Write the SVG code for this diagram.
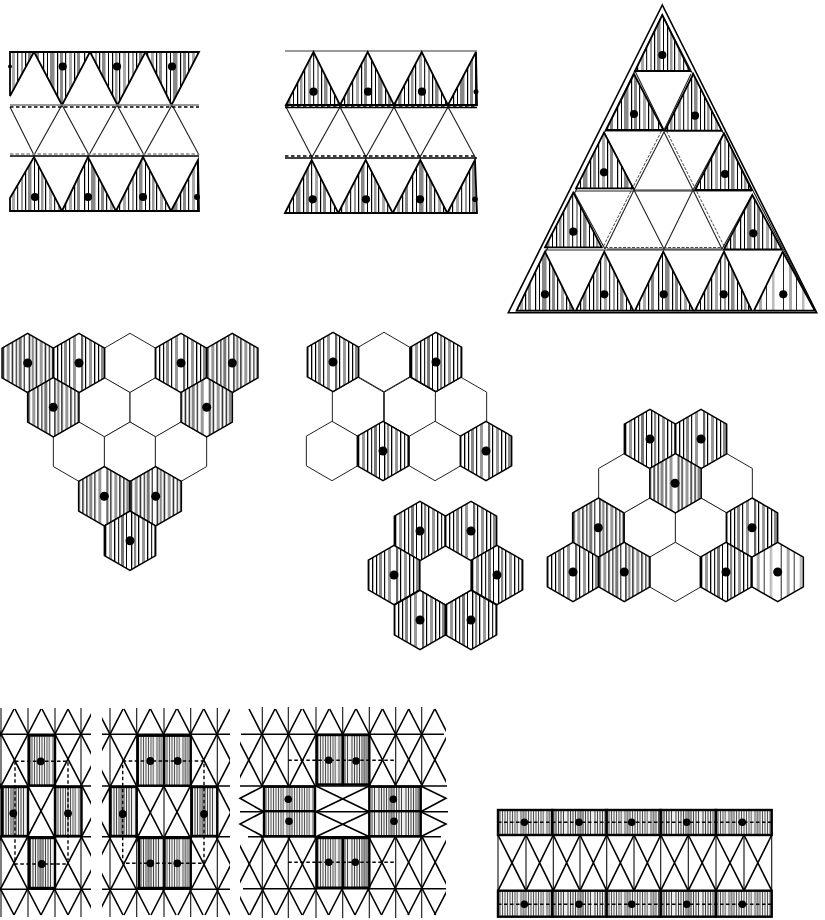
<svg xmlns="http://www.w3.org/2000/svg" width="825" height="920" viewBox="0 0 825 920">
<style>
.l{fill:none;stroke:#000;stroke-width:1.6}
.v{fill:none;stroke:#111;stroke-width:1.1}
.t{fill:none;stroke:#222;stroke-width:1.1}
.g{fill:none;stroke:#000;stroke-width:1.6}
.gd{fill:none;stroke:#777;stroke-width:1.3}
.d{fill:none;stroke:#000;stroke-width:1.4;stroke-dasharray:3.500 2.500}
.dg{fill:none;stroke:#888;stroke-width:1.3;stroke-dasharray:3.500 2}
.dt{fill:none;stroke:#333;stroke-width:.9;stroke-dasharray:3 1.500}
.ta{fill:url(#a);stroke:#000;stroke-width:1.8}
.tb{fill:url(#a2);stroke:#000;stroke-width:1.8}
.hw{fill:#fff;stroke:#222;stroke-width:1}
.hs{stroke:#000;stroke-width:1.5}
.r1{fill:url(#c);stroke:#000;stroke-width:2.4}
.r2{fill:url(#c2);stroke:#000;stroke-width:2.4}
.dot{fill:#000}
</style>
<defs>
<pattern id="a" width="37" height="10" patternUnits="userSpaceOnUse">
<rect width="37" height="10" fill="#fff"/><rect x="1" width="1.200" height="10" fill="#000"/><rect x="4" width="2.500" height="10" fill="#999"/><rect x="8" width="1.200" height="10" fill="#000"/><rect x="12" width="3" height="10" fill="#aaa"/><rect x="17" width="1.200" height="10" fill="#222"/><rect x="21" width="2" height="10" fill="#999"/><rect x="25" width="1.200" height="10" fill="#000"/><rect x="28" width="3.500" height="10" fill="#888"/><rect x="34" width="1" height="10" fill="#000"/>
</pattern>
<pattern id="a2" width="41" height="10" patternUnits="userSpaceOnUse">
<rect width="41" height="10" fill="#fff"/><rect x="2" width="1.200" height="10" fill="#000"/><rect x="6" width="1" height="10" fill="#000"/><rect x="9" width="4.500" height="10" fill="#888"/><rect x="16" width="1.200" height="10" fill="#000"/><rect x="19" width="3" height="10" fill="#888"/><rect x="24" width="1.200" height="10" fill="#111"/><rect x="28" width="3" height="10" fill="#aaa"/><rect x="33" width="1.200" height="10" fill="#000"/><rect x="36" width="3" height="10" fill="#888"/>
</pattern>
<pattern id="e" width="30" height="10" patternUnits="userSpaceOnUse">
<rect width="30" height="10" fill="#fff"/><rect x="3" width="1" height="10" fill="#222"/><rect x="9" width="3" height="10" fill="#aaa"/><rect x="16" width="1" height="10" fill="#333"/><rect x="22" width="2.500" height="10" fill="#bbb"/>
</pattern>
<pattern id="b" width="33" height="10" patternUnits="userSpaceOnUse">
<rect width="33" height="10" fill="#fff"/><rect x="1" width="1.300" height="10" fill="#000"/><rect x="4" width="2.200" height="10" fill="#888"/><rect x="8" width="1.300" height="10" fill="#000"/><rect x="12" width="3" height="10" fill="#999"/><rect x="17" width="1.300" height="10" fill="#000"/><rect x="21" width="1.200" height="10" fill="#222"/><rect x="24" width="3" height="10" fill="#777"/><rect x="29" width="1" height="10" fill="#000"/>
</pattern>
<pattern id="b2" width="37" height="10" patternUnits="userSpaceOnUse">
<rect width="37" height="10" fill="#fff"/><rect x="2" width="2.200" height="10" fill="#666"/><rect x="6" width="1.200" height="10" fill="#000"/><rect x="10" width="3" height="10" fill="#999"/><rect x="15" width="1.300" height="10" fill="#000"/><rect x="19" width="1.200" height="10" fill="#000"/><rect x="22" width="3" height="10" fill="#888"/><rect x="27" width="1.200" height="10" fill="#111"/><rect x="31" width="3" height="10" fill="#999"/>
</pattern>
<pattern id="c" width="26" height="10" patternUnits="userSpaceOnUse">
<rect width="26" height="10" fill="#eee"/><path d="M1 0v10M3.500 0v10M6 0v10M8.500 0v10M11 0v10M13.500 0v10M16 0v10M18.500 0v10M21 0v10M23.500 0v10" stroke="#555" stroke-width="1" fill="none"/><rect x="2" width="4" height="10" fill="#999" opacity=".7"/><rect x="21" width="3" height="10" fill="#aaa" opacity=".7"/>
</pattern>
<pattern id="c2" width="27" height="10" patternUnits="userSpaceOnUse">
<rect width="27" height="10" fill="#eee"/><path d="M1 0v10M3.500 0v10M6 0v10M8.500 0v10M11 0v10M13.500 0v10M16 0v10M18.500 0v10M21 0v10M23.500 0v10" stroke="#444" stroke-width="1" fill="none"/><rect x="12" width="5" height="10" fill="#888" opacity=".8"/>
</pattern>
<clipPath id="p1"><rect x="0" y="700" width="91" height="220"/></clipPath>
<clipPath id="p2"><rect x="102" y="700" width="128" height="220"/></clipPath>
<clipPath id="p3"><rect x="240" y="700" width="206" height="86"/><rect x="240" y="836.700" width="206" height="83"/></clipPath>
<path id="hx" d="M0-29.700L25.650-14.850V14.850L0 29.700L-25.650 14.850V-14.850Z"/>
</defs>
<rect width="825" height="920" fill="#fff"/>

<g id="strip-a">
<path class="t" d="M10 107L34 155L62 105L89 155L117 105L144 155L172 105L199 155"/>
<polygon class="ta" points="10,52 34,52 10,96"/>
<polygon class="tb" points="34,52 90,52 62,105"/>
<polygon class="ta" points="90,52 145.500,52 117.500,105"/>
<polygon class="tb" points="145.500,52 199,52 171.500,105"/>
<polygon class="ta" points="10,211 10,198 34,157 62,211"/>
<polygon class="tb" points="62,211 88,157 116,211"/>
<polygon class="ta" points="116,211 143,157 171,211"/>
<polygon class="tb" points="171,211 198,160 199,211"/>
<path class="gd" d="M10 105H199"/><path class="d" d="M10 107H199"/>
<path class="dg" d="M10 154H199"/><path class="g" d="M10 156H199"/>
<g class="dot"><circle cx="10" cy="66.500" r="2"/><circle cx="62.700" cy="66.500" r="4.100"/><circle cx="117" cy="66.500" r="4.100"/><circle cx="172" cy="66.500" r="4.100"/><circle cx="35" cy="197" r="4.100"/><circle cx="88" cy="197" r="4.100"/><circle cx="143" cy="197" r="4.100"/><circle cx="197" cy="197" r="3"/></g>
</g>

<g id="strip-b">
<path class="t" d="M286 107L312 157L340 107L366 157L394 107L420 157L448 107L475 157"/>
<path class="gd" d="M285 51H477"/>
<polygon class="ta" points="286,105 313.500,52 340,105"/>
<polygon class="tb" points="340,105 367.700,52 394,105"/>
<polygon class="ta" points="394,105 421.700,52 448,105"/>
<polygon class="tb" points="448,105 476,52 477,105"/>
<polygon class="tb" points="285,213 311.700,160 338.300,213"/>
<polygon class="ta" points="338.300,213 365.700,160 392.700,213"/>
<polygon class="tb" points="392.700,213 420.300,160 447.300,213"/>
<polygon class="ta" points="447.300,213 475,160 477,213"/>
<path class="g" d="M285 107.500H477"/><path class="d" d="M285 106H477"/>
<path class="d" d="M285 156H477"/><path class="g" d="M285 158H477"/>
<g class="dot"><circle cx="313.500" cy="91.700" r="4.100"/><circle cx="368" cy="91.700" r="4.100"/><circle cx="422" cy="91.700" r="4.100"/><circle cx="476" cy="91.700" r="2.500"/><circle cx="312.700" cy="199.300" r="4.100"/><circle cx="366" cy="199.300" r="4.100"/><circle cx="420" cy="199.300" r="4.100"/><circle cx="475" cy="199.300" r="2.800"/></g>
</g>

<g id="big-triangle">
<polygon class="l" points="662.300,5 508.300,312.700 816.700,312.700"/>
<polygon class="t" points="662.300,15 516.700,310.700 815,310.700"/>
<path class="t" d="M634 190H693M634 190L664 249L693 190M664 132L634 190L605 249M664 132L693 190L722 249"/>
<path class="t" d="M607 249H722"/>
<path class="dt" d="M661.500 131L631.500 190L602.500 248M666.500 131L696 190L725 248M605 247.500H722"/>
<path class="t" d="M635 71L664 130M691 74L664 130M605 131H722M576 191H752M545 250H782"/>
<path class="t" d="M634 190L604 132M693 190L724 133M605 249L574 192M722 249L752 195"/>
<polygon class="ta" points="662.300,15 635,71 690,71"/>
<polygon class="tb" points="634,74 606,130 663.300,130"/>
<polygon class="ta" points="693.300,74 665,130.700 721.700,130.700"/>
<polygon class="tb" points="604,132.700 576,188.300 633.300,188.300"/>
<polygon class="ta" points="724,133.300 695,190 751.700,190"/>
<polygon class="ta" points="573.300,192.700 545,247.300 601.700,247.300"/>
<polygon class="tb" points="752.300,195 724,249.300 781.700,249.300"/>
<polygon class="tb" points="545,251.700 516.700,310.700 574,310.700"/>
<polygon class="ta" points="604.300,251.700 576,310.700 633.300,310.700"/>
<polygon class="tb" points="663.300,251.700 635,310.700 693.300,310.700"/>
<polygon class="ta" points="724,251.700 695,310.700 751.700,310.700"/>
<polygon class="tb" points="782.700,251.700 754,310.700 815,310.700" style="fill:url(#e)"/>
<g class="dot"><circle cx="662.300" cy="55" r="4.100"/><circle cx="634" cy="114" r="4.100"/><circle cx="695" cy="115.700" r="4.100"/><circle cx="604" cy="172.300" r="4.100"/><circle cx="725" cy="174" r="4.100"/><circle cx="573.300" cy="231.700" r="4.100"/><circle cx="753.300" cy="233.300" r="4.100"/><circle cx="545" cy="294.300" r="4.100"/><circle cx="604.300" cy="294.300" r="4.100"/><circle cx="663.700" cy="294.300" r="4.100"/><circle cx="723.700" cy="294.300" r="4.100"/><circle cx="783.300" cy="294.300" r="4.100"/></g>
</g>

<g id="hex-a">
<use href="#hx" x="130" y="363" class="hw"/>
<use href="#hx" x="104.300" y="407.300" class="hw"/><use href="#hx" x="155.700" y="407.300" class="hw"/>
<use href="#hx" x="79" y="451.700" class="hw"/><use href="#hx" x="130" y="451.700" class="hw"/><use href="#hx" x="181" y="451.700" class="hw"/>
<use href="#hx" x="27.700" y="363" class="hs" fill="url(#b)"/><use href="#hx" x="79" y="363" class="hs" fill="url(#b2)"/>
<use href="#hx" x="181" y="363" class="hs" fill="url(#b2)"/><use href="#hx" x="232.300" y="363" class="hs" fill="url(#b)"/>
<use href="#hx" x="53.300" y="407.300" class="hs" fill="url(#b)"/><use href="#hx" x="206.700" y="407.300" class="hs" fill="url(#b2)"/>
<use href="#hx" x="104.300" y="496.300" class="hs" fill="url(#b2)"/><use href="#hx" x="155.700" y="496.300" class="hs" fill="url(#b)"/>
<use href="#hx" x="130" y="540.700" class="hs" fill="url(#b)"/>
<g class="dot"><circle cx="27.700" cy="363" r="4.500"/><circle cx="79" cy="363" r="4.500"/><circle cx="181" cy="363" r="4.500"/><circle cx="232.300" cy="363" r="4.500"/><circle cx="53.300" cy="407.300" r="4.500"/><circle cx="206.700" cy="407.300" r="4.500"/><circle cx="104.300" cy="496.300" r="4.500"/><circle cx="155.700" cy="496.300" r="4.500"/><circle cx="130" cy="540.700" r="4.500"/></g>
</g>

<g id="hex-b">
<use href="#hx" x="384" y="362" class="hw"/>
<use href="#hx" x="358" y="407" class="hw"/><use href="#hx" x="410" y="407" class="hw"/><use href="#hx" x="461" y="407" class="hw"/>
<use href="#hx" x="332" y="451" class="hw"/><use href="#hx" x="435" y="451" class="hw"/>
<use href="#hx" x="333" y="362" class="hs" fill="url(#b2)"/><use href="#hx" x="436" y="362" class="hs" fill="url(#b)"/>
<use href="#hx" x="383" y="451" class="hs" fill="url(#b)"/><use href="#hx" x="486" y="451" class="hs" fill="url(#b2)"/>
<g class="dot"><circle cx="333" cy="362" r="4.500"/><circle cx="436" cy="362" r="4.500"/><circle cx="383" cy="451" r="4.500"/><circle cx="486" cy="451" r="4.500"/></g>
</g>

<g id="hex-ring">
<use href="#hx" x="445.500" y="575" class="hw"/>
<use href="#hx" x="420" y="531" class="hs" fill="url(#b)"/><use href="#hx" x="471" y="531" class="hs" fill="url(#b2)"/>
<use href="#hx" x="394" y="575" class="hs" fill="url(#b2)"/><use href="#hx" x="497" y="575" class="hs" fill="url(#b)"/>
<use href="#hx" x="420" y="620" class="hs" fill="url(#b2)"/><use href="#hx" x="471" y="620" class="hs" fill="url(#b)"/>
<g class="dot"><circle cx="420" cy="531" r="4.500"/><circle cx="471" cy="531" r="4.500"/><circle cx="394" cy="575" r="4.500"/><circle cx="497" cy="575" r="4.500"/><circle cx="420" cy="620" r="4.500"/><circle cx="471" cy="620" r="4.500"/></g>
</g>

<g id="hex-c">
<use href="#hx" x="624.300" y="483.300" class="hw"/><use href="#hx" x="726.700" y="483.300" class="hw"/>
<use href="#hx" x="650" y="527.700" class="hw"/><use href="#hx" x="701" y="527.700" class="hw"/>
<use href="#hx" x="675.300" y="572" class="hw"/>
<use href="#hx" x="650" y="439" class="hs" fill="url(#b)"/><use href="#hx" x="701" y="439" class="hs" fill="url(#b2)"/>
<use href="#hx" x="675.500" y="483.300" class="hs" fill="url(#b2)"/>
<use href="#hx" x="598.300" y="527.700" class="hs" fill="url(#b)"/><use href="#hx" x="752" y="527.700" class="hs" fill="url(#b2)"/>
<use href="#hx" x="573" y="572" class="hs" fill="url(#b2)"/><use href="#hx" x="624.300" y="572" class="hs" fill="url(#b)"/>
<use href="#hx" x="726" y="572" class="hs" fill="url(#b)"/><use href="#hx" x="777.700" y="572" class="hs" fill="url(#e)"/>
<g class="dot"><circle cx="650" cy="439" r="4.500"/><circle cx="701" cy="439" r="4.500"/><circle cx="675" cy="483.300" r="4.500"/><circle cx="598.300" cy="527.700" r="4.500"/><circle cx="752" cy="527.700" r="4.500"/><circle cx="573" cy="572" r="4.500"/><circle cx="624.300" cy="572" r="4.500"/><circle cx="726" cy="572" r="4.500"/><circle cx="777.700" cy="572" r="4.500"/></g>
</g>

<g id="grid-a">
<g clip-path="url(#p1)">
<path class="l" d="M-93 709L14 915M-66 709L41 915M-39 709L68 915M-12 709L95 915M15 709L122 915M42 709L149 915M68 709L175 915"/>
<path class="l" d="M14 709L-93 915M41 709L-66 915M68 709L-39 915M94 709L-13 915M121 709L14 915M148 709L41 915M175 709L68 915"/>
<path class="v" d="M1 708V917M28 708V917M55 708V917M81 708V917"/>
<path class="l" d="M0 734.300H91M0 786H91M0 836.700H91M0 889.300H91"/>
</g>
<rect class="r1" x="29" y="735.500" width="26" height="50"/>
<rect class="r2" x="2" y="787" width="26" height="49"/>
<rect class="r1" x="55" y="787" width="26.500" height="49"/>
<rect class="r2" x="29" y="838" width="26" height="50"/>
<path class="d" d="M15 761.300H68V860M15 761.300V864H68"/>
<g class="dot"><circle cx="40.700" cy="761.300" r="3.900"/><circle cx="13.300" cy="813.300" r="3.900"/><circle cx="68" cy="813.300" r="3.900"/><circle cx="41.700" cy="864" r="3.900"/></g>
</g>

<g id="grid-b">
<g clip-path="url(#p2)">
<path class="l" d="M-10 709L96 915M17 709L123 915M43.500 709L149.500 915M70 709L176 915M97 709L203 915M124 709L230 915M150.500 709L256.500 915M177.500 709L283.500 915M204 709L310 915"/>
<path class="l" d="M123 709L17 915M150 709L44 915M176.500 709L70.500 915M203.500 709L97.500 915M230 709L124 915M257 709L151 915M284 709L178 915M311 709L205 915M337 709L231 915"/>
<path class="v" d="M110 708V917M136.700 708V917M164 708V917M190.700 708V917M217.300 708V917"/>
<path class="l" d="M102 734.300H230M102 786H230M102 836.700H230M102 889.300H230"/>
</g>
<rect class="r1" x="137.700" y="735.700" width="26.500" height="50"/><rect class="r1" x="164.200" y="735.700" width="26.500" height="50"/>
<rect class="r2" x="110" y="787" width="26.700" height="49"/>
<rect class="r2" x="191.700" y="787" width="25.600" height="49"/>
<rect class="r2" x="139" y="838" width="25.500" height="50"/><rect class="r1" x="164.500" y="838" width="26.200" height="50"/>
<path class="d" d="M122.700 761H204V863.300H122.700Z"/>
<g class="dot"><circle cx="150.300" cy="761" r="3.900"/><circle cx="177.700" cy="761" r="3.900"/><circle cx="122.700" cy="814" r="3.900"/><circle cx="204" cy="814" r="3.900"/><circle cx="150.300" cy="863.300" r="3.900"/><circle cx="177.300" cy="863.300" r="3.900"/></g>
</g>

<g id="grid-c">
<g clip-path="url(#p3)">
<path class="l" d="M143 709L249 915M169.500 709L275.500 915M196 709L302 915M222.500 709L328.500 915M249 709L355 915M275.500 709L381.500 915M303 709L409 915M329.700 709L435.700 915M356.300 709L462.300 915M382.700 709L488.700 915M408.700 709L514.700 915M435 709L541 915"/>
<path class="l" d="M275 709L169 915M301.500 709L195.500 915M329 709L223 915M355.700 709L249.700 915M382.300 709L276.300 915M408.700 709L302.700 915M434.700 709L328.700 915M461 709L355 915M487.500 709L381.500 915M514 709L408 915M540.500 709L434.500 915"/>
<path class="v" d="M262.300 707V918M288.300 707V918M316 707V918M342.700 707V918M369.300 707V918M395.700 707V918M421.700 707V918"/>
</g>
<path class="l" d="M241 734.300H444M240 786H447M240 811.700H448M248 836.700H441M243 888.700H446"/>
<path class="l" d="M316 786L369.300 811.700M316 811.700L369.300 786M316 811.700L369.300 836.700M316 836.700L369.300 811.700"/>
<path class="l" d="M263.700 786L240 798.300L263.700 811.700L240 824L263.700 836.700M420.700 786L446 798.300L420.700 811.700L446 824L420.700 836.700"/>
<rect class="r1" x="316.700" y="735" width="26.300" height="49.500"/><rect class="r2" x="343" y="735" width="26.300" height="49.500"/>
<rect class="r1" x="264" y="786.700" width="51" height="24.500"/><rect class="r1" x="264" y="811.200" width="51" height="25"/>
<rect class="r2" x="369.300" y="786.700" width="51.400" height="24.500"/><rect class="r2" x="369.300" y="811.200" width="51.400" height="25"/>
<rect class="r1" x="316.700" y="838" width="26.300" height="49.700"/><rect class="r2" x="343" y="838" width="26.300" height="49.700"/>
<path class="d" d="M288.300 760.300H395.700M288.300 862.300H395.700"/>
<g class="dot"><circle cx="328.700" cy="760.300" r="3.800"/><circle cx="356" cy="761" r="3.800"/><circle cx="288.300" cy="799.300" r="3.800"/><circle cx="289" cy="821.300" r="3.800"/><circle cx="393.300" cy="799.300" r="3.800"/><circle cx="394" cy="821.300" r="3.800"/><circle cx="328.700" cy="862.300" r="3.800"/><circle cx="355.300" cy="862.300" r="3.800"/></g>
</g>

<g id="band">
<path class="v" d="M498 835V890.700M526 835V890.700M553.300 835V890.700M580 835V890.700M606.700 835V890.700M634 835V890.700M660.700 835V890.700M688.300 835V890.700M716 835V890.700M744 835V890.700M771.700 835V890.700"/>
<path class="l" d="M498 835L526 890.700M526 835L498 890.700M526 835L553.300 890.700M553.300 835L526 890.700M553.300 835L580 890.700M580 835L553.300 890.700M580 835L606.700 890.700M606.700 835L580 890.700M606.700 835L634 890.700M634 835L606.700 890.700M634 835L660.700 890.700M660.700 835L634 890.700M660.700 835L688.300 890.700M688.300 835L660.700 890.700M688.300 835L716 890.700M716 835L688.300 890.700M716 835L744 890.700M744 835L716 890.700M744 835L771.700 890.700M771.700 835L744 890.700"/>
<rect class="r1" x="498" y="810" width="54.300" height="25"/><rect class="r2" x="552.300" y="810" width="54.400" height="25"/><rect class="r1" x="606.700" y="810" width="54" height="25"/><rect class="r2" x="660.700" y="810" width="55.300" height="25"/><rect class="r1" x="716" y="810" width="55.700" height="25"/>
<rect class="r1" x="498" y="890.700" width="54.300" height="26"/><rect class="r2" x="552.300" y="890.700" width="54.400" height="26"/><rect class="r1" x="606.700" y="890.700" width="54" height="26"/><rect class="r2" x="660.700" y="890.700" width="55.300" height="26"/><rect class="r1" x="716" y="890.700" width="55.700" height="26"/>
<path class="d" d="M498 822.300H771M498 904.300H771"/>
<g class="dot"><circle cx="524.300" cy="822.300" r="3.800"/><circle cx="579" cy="822.300" r="3.800"/><circle cx="631.700" cy="822.300" r="3.800"/><circle cx="686.700" cy="822.300" r="3.800"/><circle cx="742.300" cy="822.300" r="3.800"/><circle cx="524.300" cy="904.300" r="3.800"/><circle cx="579" cy="904.300" r="3.800"/><circle cx="631.700" cy="904.300" r="3.800"/><circle cx="686.700" cy="904.300" r="3.800"/><circle cx="742.300" cy="904.300" r="3.800"/></g>
</g>
</svg>
